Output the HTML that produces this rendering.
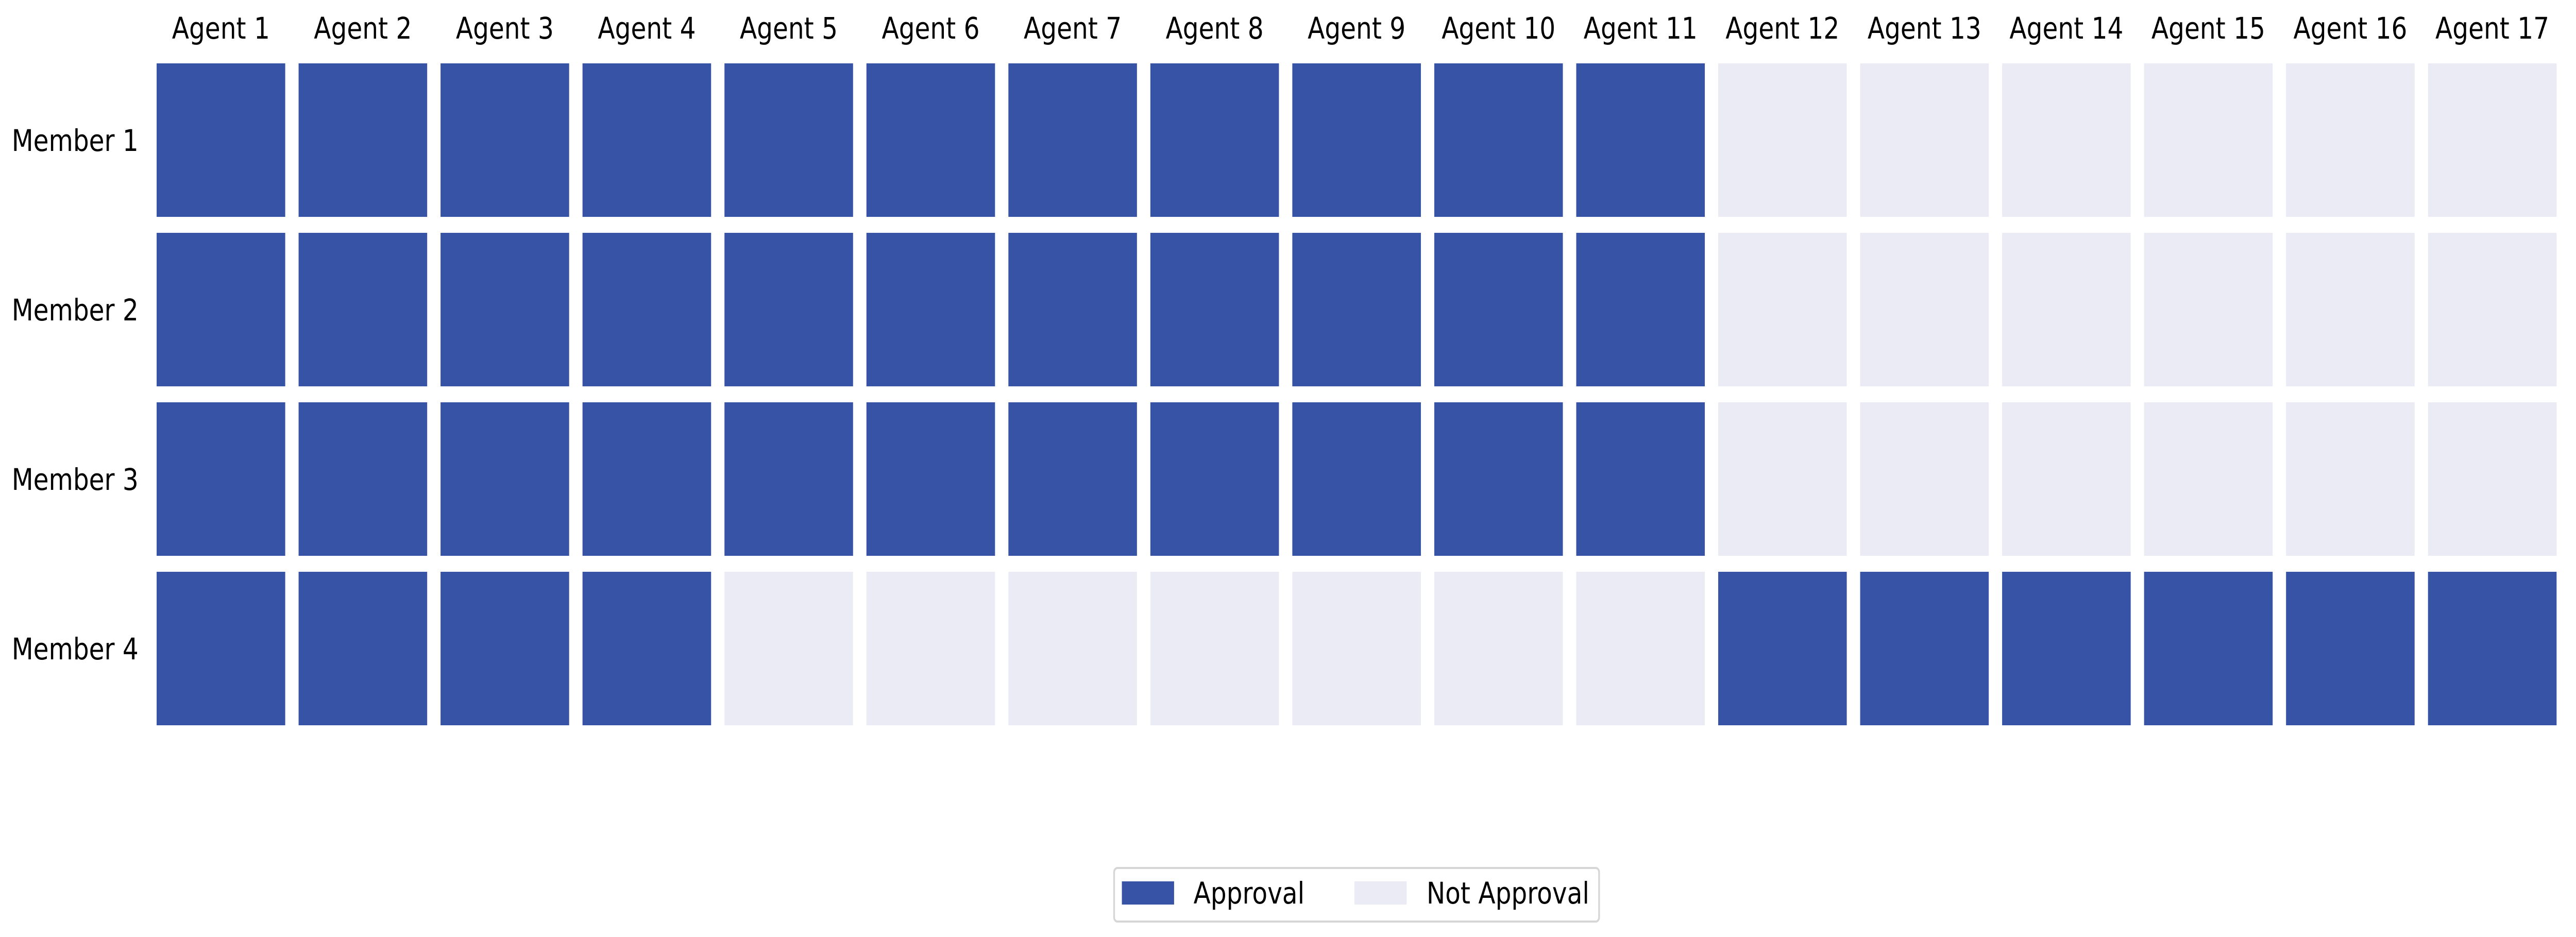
<!DOCTYPE html>
<html><head><meta charset="utf-8">
<style>
html,body{margin:0;padding:0;background:#fff;overflow:hidden;width:100%;height:100%;}
svg{display:block;width:100vw;height:100vh;}
text{font-family:"DejaVu Sans","Liberation Sans",sans-serif;fill:#000;}
</style></head>
<body>
<svg id="chart" viewBox="0 0 5970 1819" preserveAspectRatio="none" xmlns="http://www.w3.org/2000/svg">
<g id="cells"></g>
<g id="xlabels"></g>
<g id="ylabels"></g>
<g>
  <rect x="2582" y="1685" width="1124" height="104" rx="8" fill="#fff" stroke="#d6d6d6" stroke-width="4"/>
  <rect x="2600" y="1711" width="121" height="45" fill="#3753a5"/>
  <text x="2766" y="1754" font-size="58">Approval</text>
  <rect x="3139" y="1711" width="121" height="45" fill="#ebebf5"/>
  <text x="3306" y="1754" font-size="58">Not Approval</text>
</g>
</svg>
<script>
const agents = ["Agent 1","Agent 2","Agent 3","Agent 4","Agent 5","Agent 6","Agent 7","Agent 8","Agent 9","Agent 10","Agent 11","Agent 12","Agent 13","Agent 14","Agent 15","Agent 16","Agent 17"];
const members = ["Member 1","Member 2","Member 3","Member 4"];
const member1 = [1,1,1,1,1,1,1,1,1,1,1,0,0,0,0,0,0];
const member2 = [1,1,1,1,1,1,1,1,1,1,1,0,0,0,0,0,0];
const member3 = [1,1,1,1,1,1,1,1,1,1,1,0,0,0,0,0,0];
const member4 = [1,1,1,1,0,0,0,0,0,0,0,1,1,1,1,1,1];
const matrix = [member1, member2, member3, member4];

const NS = "http://www.w3.org/2000/svg";
const x0 = 363, y0 = 123, pitch = 329, size = 298;
const xPos = i => x0 + i * pitch;
const yPos = j => y0 + j * pitch;
const colors = {1: "#3753a5", 0: "#ebebf5"};

const cells = document.getElementById("cells");
matrix.forEach((row, j) => {
  row.forEach((v, i) => {
    const r = document.createElementNS(NS, "rect");
    r.setAttribute("x", xPos(i));
    r.setAttribute("y", yPos(j));
    r.setAttribute("width", size);
    r.setAttribute("height", size);
    r.setAttribute("fill", colors[v]);
    
    
    cells.appendChild(r);
  });
});

const xl = document.getElementById("xlabels");
agents.forEach((a, i) => {
  const t = document.createElementNS(NS, "text");
  t.setAttribute("x", xPos(i) + size / 2);
  t.setAttribute("y", 75);
  t.setAttribute("font-size", "58");
  t.setAttribute("text-anchor", "middle");
  t.textContent = a;
  
  
  xl.appendChild(t);
});

const yl = document.getElementById("ylabels");
members.forEach((m, j) => {
  const t = document.createElementNS(NS, "text");
  t.setAttribute("x", 321);
  t.setAttribute("y", yPos(j) + size / 2 + 21);
  t.setAttribute("font-size", "58");
  t.setAttribute("text-anchor", "end");
  t.textContent = m;
  
  
  yl.appendChild(t);
});
</script>
</body></html>
